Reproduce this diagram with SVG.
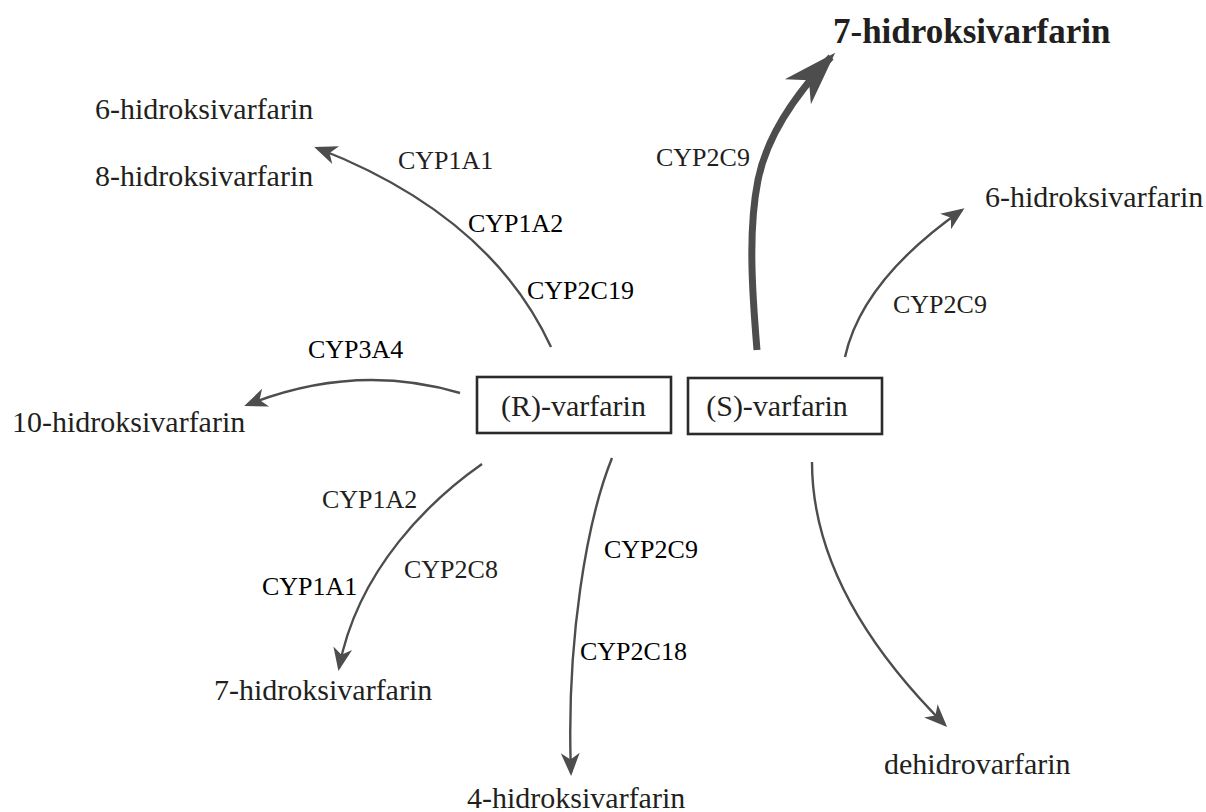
<svg xmlns="http://www.w3.org/2000/svg" width="1206" height="812" viewBox="0 0 1206 812">
<style>
  text { font-family: "Liberation Serif", "Times New Roman", serif; fill: #231f20; }
  .prod { font-size: 30px; }
  .title { font-size: 35px; font-weight: bold; }
  .cyp { font-size: 26px; }
  .dark { fill: #000; }
  .box { fill: #fff; stroke: #2b2b2b; stroke-width: 2.6; }
  .conn { fill: none; stroke: #4d4d4d; stroke-width: 2.4; }
  .bold { fill: none; stroke: #4d4d4d; stroke-width: 7; }
</style>
<defs>
  <marker id="ah" markerUnits="userSpaceOnUse" viewBox="-30 -15 36 30" refX="0" refY="0" markerWidth="36" markerHeight="30" orient="auto">
    <path d="M3,0 L-20,-9.5 L-13.5,0 L-20,9.5 Z" fill="#4d4d4d"/>
  </marker>
  <marker id="ahb" markerUnits="userSpaceOnUse" viewBox="-60 -25 70 50" refX="0" refY="0" markerWidth="70" markerHeight="50" orient="auto">
    <path d="M6,0 L-48,-18 L-32,0 L-48,18 Z" fill="#4d4d4d"/>
  </marker>
</defs>

<g id="connectors">
  <path class="conn" d="M551,347 Q490,215 317,148" marker-end="url(#ah)"/>
  <path class="conn" d="M460,393 Q355,362 247,405" marker-end="url(#ah)"/>
  <path class="bold" d="M757,350 C752,290 748,230 758,180 C766,140 790,100 831,57" marker-end="url(#ahb)"/>
  <path class="conn" d="M845,357 Q862,280 962,210" marker-end="url(#ah)"/>
  <path class="conn" d="M482,464 C432,499 358,568 339,668" marker-end="url(#ah)"/>
  <path class="conn" d="M612,458 C587,520 566,640 571,773" marker-end="url(#ah)"/>
  <path class="conn" d="M812,462 C812,560 870,650 945,725" marker-end="url(#ah)"/>
</g>

<g id="r-varfarin">
  <rect class="box" x="477" y="377" width="194" height="56"/>
  <text class="prod" x="573.5" y="416" text-anchor="middle">(R)-varfarin</text>
</g>
<g id="s-varfarin">
  <rect class="box" x="688" y="378" width="194" height="56"/>
  <text class="prod" x="777" y="416" text-anchor="middle">(S)-varfarin</text>
</g>

<g id="s-7-hidroksivarfarin"><text class="title" x="833" y="43">7-hidroksivarfarin</text></g>
<g id="s-6-hidroksivarfarin"><text class="prod" x="985" y="207">6-hidroksivarfarin</text></g>
<g id="dehidrovarfarin"><text class="prod" x="884" y="774">dehidrovarfarin</text></g>
<g id="r-6-hidroksivarfarin"><text class="prod" x="95" y="119">6-hidroksivarfarin</text></g>
<g id="r-8-hidroksivarfarin"><text class="prod" x="95" y="186">8-hidroksivarfarin</text></g>
<g id="r-10-hidroksivarfarin"><text class="prod" x="12" y="432">10-hidroksivarfarin</text></g>
<g id="r-7-hidroksivarfarin"><text class="prod" x="214" y="700">7-hidroksivarfarin</text></g>
<g id="r-4-hidroksivarfarin"><text class="prod" x="467" y="808">4-hidroksivarfarin</text></g>

<g id="labels">
  <text class="cyp" x="398" y="169">CYP1A1</text>
  <text class="cyp dark" x="468" y="232">CYP1A2</text>
  <text class="cyp dark" x="527" y="299">CYP2C19</text>
  <text class="cyp dark" x="308" y="358">CYP3A4</text>
  <text class="cyp" x="656" y="166">CYP2C9</text>
  <text class="cyp" x="893" y="313">CYP2C9</text>
  <text class="cyp" x="322" y="508">CYP1A2</text>
  <text class="cyp" x="404" y="578">CYP2C8</text>
  <text class="cyp dark" x="262" y="595">CYP1A1</text>
  <text class="cyp dark" x="604" y="558">CYP2C9</text>
  <text class="cyp dark" x="580" y="660">CYP2C18</text>
</g>
</svg>
